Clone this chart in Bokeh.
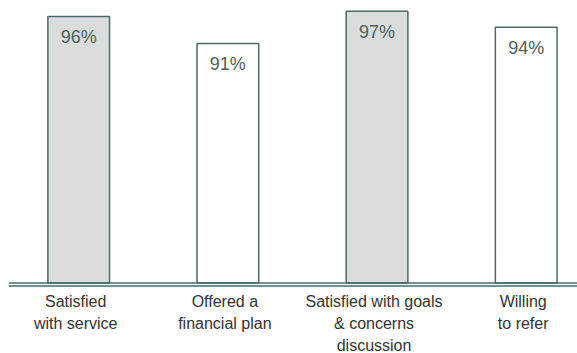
from bokeh.plotting import figure
from bokeh.models import Range1d, Span, ColumnDataSource
from bokeh.core.properties import value
from bokeh.embed import file_html
from bokeh.resources import INLINE

# ---- data ----
categories = ["Satisfied with service", "Offered a financial plan",
              "Satisfied with goals & concerns discussion", "Willing to refer"]
label_lines = [["Satisfied", "with service"],
               ["Offered a", "financial plan"],
               ["Satisfied with goals", "& concerns", "discussion"],
               ["Willing", "to refer"]]
percent = [96, 91, 97, 94]

# ---- styling / layout ----
W, H = 577, 353
LEFT_PAD = 8
PX_PER_UNIT = 5.367
Y_END = 97 + 10.7 / PX_PER_UNIT
Y_START = Y_END - H / PX_PER_UNIT
BASE = Y_END - 282.5 / PX_PER_UNIT
OUTLINE = "#4c6964"
GRAY = "#d8dddc"
VAL_COLOR = "#4f605d"
CAT_COLOR = "#333333"
FONT = "Liberation Sans"

idx = list(range(len(categories)))

p = figure(width=W, height=H, output_backend="svg", toolbar_location=None,
           x_range=Range1d(-0.4706, 3.3439), y_range=Range1d(Y_START, Y_END),
           min_border=0, min_border_left=LEFT_PAD, min_border_right=0,
           min_border_top=0, min_border_bottom=0)
p.axis.visible = False
p.grid.visible = False
p.outline_line_color = None
p.background_fill_color = "white"
p.border_fill_color = "white"

fills = [GRAY if i % 2 == 0 else "white" for i in idx]
src = ColumnDataSource(dict(x=idx, top=percent, fill=fills,
                            lab=[f"{v}%" for v in percent]))
p.vbar(x="x", top="top", bottom=BASE, width=0.4135, fill_color="fill",
       line_color=OUTLINE, line_width=1.5, source=src)

# value labels inside bars
p.text(x="x", y="top", text="lab", source=src, text_align="center",
       text_baseline="alphabetic", y_offset=20.5, text_font=value(FONT),
       text_font_size="18px", text_color=VAL_COLOR)

# double baseline
p.add_layout(Span(location=BASE, dimension="width", line_color=OUTLINE, line_width=1.5))
p.add_layout(Span(location=BASE - 3 / PX_PER_UNIT, dimension="width",
                  line_color=OUTLINE, line_width=1.5))

# category labels
xs, ys, txt, offs = [], [], [], []
for i, lines in zip(idx, label_lines):
    for j, ln in enumerate(lines):
        xs.append(i)
        ys.append(BASE)
        txt.append(ln)
        offs.append(18.5 + 22 * j)
csrc = ColumnDataSource(dict(x=xs, y=ys, t=txt, off=offs))
p.text(x="x", y="y", text="t", source=csrc, text_align="center",
       text_baseline="alphabetic", y_offset="off", x_offset=-3,
       text_font=value(FONT), text_font_size="16px", text_color=CAT_COLOR)

open("out.html", "w").write(file_html(p, INLINE))
